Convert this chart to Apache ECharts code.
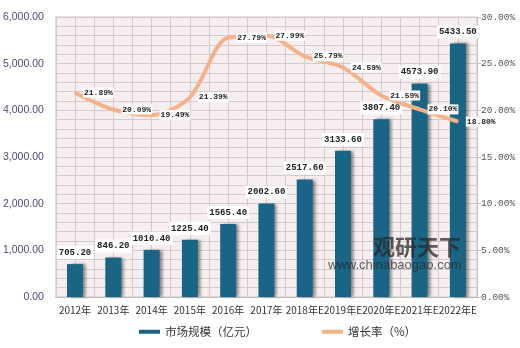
<!DOCTYPE html>
<html><head><meta charset="utf-8">
<script src="https://cdn.jsdelivr.net/npm/echarts@6/dist/echarts.min.js"></script>
<style>html,body{margin:0;padding:0;background:#fff}#c{width:520px;height:348px}</style>
</head><body><div id="c"></div>
<script>
var categories = ['2012年','2013年','2014年','2015年','2016年','2017年','2018年E','2019年E','2020年E','2021年E','2022年E'];
var marketSize = [705.20, 846.20, 1010.40, 1225.40, 1565.40, 2002.60, 2517.60, 3133.60, 3807.40, 4573.90, 5433.50];
var growthRate = [21.89, 20.09, 19.49, 21.39, 27.79, 27.99, 25.79, 24.59, 21.59, 20.10, 18.80];
var seriesNames = ['市场规模（亿元）', '增长率（%）'];

var chart = echarts.init(document.getElementById('c'));
var gridLine = '#d3cbcb';
var legendText = {fontFamily: 'Noto Sans CJK SC', fontSize: 11.5, color: '#333'};
chart.setOption({
  animation: false,
  grid: {left: 53, right: 43, top: 17, bottom: 51, show: true, backgroundColor: '#f7efef', borderColor: '#cfc7c7', borderWidth: 1},
  legend: [
    {top: 326, left: 139, padding: 0, itemGap: 0, itemWidth: 21, itemHeight: 4, textStyle: legendText,
     data: [{name: seriesNames[0], icon: 'rect', itemStyle: {color: '#1a6486'}}]},
    {top: 326, left: 322, padding: 0, itemGap: 0, itemWidth: 21, itemHeight: 4, textStyle: legendText,
     data: [{name: seriesNames[1], icon: 'rect', itemStyle: {color: '#f5b28a', opacity: 1}}]}
  ],
  xAxis: [
    {type: 'category', data: categories, boundaryGap: true,
     axisLine: {show: true, lineStyle: {color: '#bdbdbd'}}, axisTick: {show: false},
     axisLabel: {interval: 0, margin: 8, fontFamily: 'Noto Sans CJK SC', fontSize: 10, color: '#333'}},
    {type: 'value', min: 0, max: 22, interval: 1, show: true, position: 'top',
     axisLine: {show: false}, axisTick: {show: false}, axisLabel: {show: false},
     splitLine: {show: true, lineStyle: {color: gridLine, width: 1}}}
  ],
  yAxis: [
    {type: 'value', min: 0, max: 6000, interval: 1000,
     axisLine: {show: false}, axisTick: {show: false},
     axisLabel: {margin: 12, fontFamily: 'Liberation Sans', fontSize: 10.5, color: '#4b4b7a',
       formatter: function(v){ return v.toLocaleString('en-US',{minimumFractionDigits:2, maximumFractionDigits:2}); }},
     splitLine: {show: true, lineStyle: {color: gridLine}},
     minorTick: {show: false, splitNumber: 5},
     minorSplitLine: {show: true, lineStyle: {color: gridLine}}},
    {type: 'value', min: 0, max: 30, interval: 5, position: 'right',
     axisLine: {show: true, lineStyle: {color: '#c0c0c0'}},
     axisTick: {show: true, length: 4, lineStyle: {color: '#c0c0c0'}},
     axisLabel: {margin: 4, fontFamily: 'Liberation Mono', fontSize: 9.5, color: '#555',
       formatter: function(v){ return v.toFixed(2) + '%'; }},
     splitLine: {show: false}}
  ],
  series: [
    {name: seriesNames[0], type: 'bar', data: marketSize, barWidth: 16, xAxisIndex: 0, yAxisIndex: 0,
     itemStyle: {color: '#1a6486', shadowColor: 'rgba(0,0,0,0.45)', shadowBlur: 3, shadowOffsetX: 3, shadowOffsetY: 0},
     label: {show: true, position: 'top', distance: 5, fontFamily: 'Liberation Mono', fontWeight: 'bold', fontSize: 9,
       color: '#222', backgroundColor: '#fff', padding: [2, 2],
       formatter: function(p){ return p.value.toFixed(2); }}},
    {name: seriesNames[1], type: 'line', data: growthRate, xAxisIndex: 0, yAxisIndex: 1, smooth: 0.3,
     symbol: 'circle', symbolSize: 2, showSymbol: true, lineStyle: {color: '#f5b28a', width: 4}, itemStyle: {color: '#f5b28a'},
     label: {show: true, position: 'right', distance: 7, fontFamily: 'Liberation Mono', fontWeight: 'bold', fontSize: 8,
       color: '#222', backgroundColor: '#fff', padding: [1, 1],
       formatter: function(p){ return p.value.toFixed(2) + '%'; }}, labelLayout: {hideOverlap: false}, z: 5}
  ],
  graphic: [
    {type: 'text', left: 373, top: 236, z: 100, style: {text: '观研天下', fontFamily: 'Noto Sans CJK SC', fontWeight: 'bold', fontSize: 22, fill: 'rgba(40,40,40,0.75)'}},
    {type: 'text', left: 328, top: 259, z: 100, style: {text: 'www.chinabaogao.com', fontFamily: 'Liberation Sans', fontSize: 13, fill: 'rgba(40,40,40,0.75)'}}
  ]
});
</script>
</body></html>
